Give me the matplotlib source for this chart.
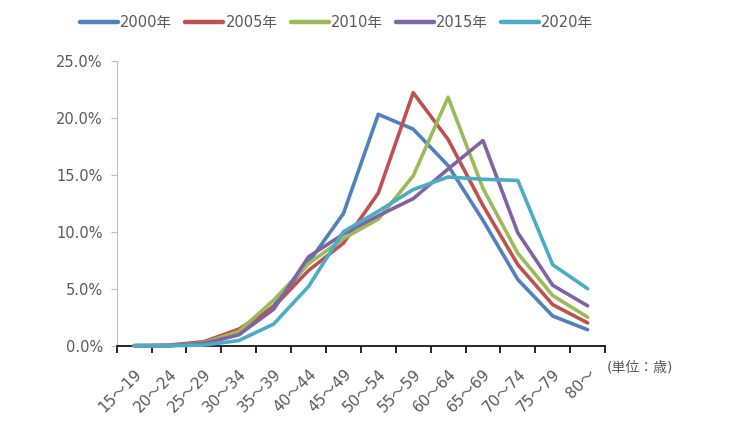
import matplotlib
matplotlib.use('Agg')
import matplotlib.pyplot as plt
from matplotlib.ticker import FixedLocator, PercentFormatter

plt.rcParams['font.family'] = ['DejaVu Sans', 'Noto Sans CJK JP']

ages = ["15～19", "20～24", "25～29", "30～34", "35～39", "40～44", "45～49",
        "50～54", "55～59", "60～64", "65～69", "70～74", "75～79", "80～"]

y2000 = [0.0, 0.0, 0.2, 1.0, 3.5, 7.3, 11.6, 20.3, 19.0, 15.8, 11.0, 5.8, 2.6, 1.4]
y2005 = [0.0, 0.05, 0.35, 1.45, 3.4, 6.6, 9.0, 13.4, 22.2, 18.1, 12.3, 7.1, 3.6, 2.0]
y2010 = [0.0, 0.0, 0.25, 1.25, 4.0, 7.2, 9.4, 11.1, 14.9, 21.8, 13.8, 8.1, 4.4, 2.5]
y2015 = [0.0, 0.0, 0.2, 0.95, 3.2, 7.8, 9.8, 11.4, 12.9, 15.5, 18.0, 9.9, 5.3, 3.5]
y2020 = [0.0, 0.0, 0.05, 0.45, 1.9, 5.2, 10.0, 11.8, 13.7, 14.8, 14.6, 14.5, 7.1, 5.0]

series = [("2000年", y2000, "#4F81BD"),
          ("2005年", y2005, "#C0504D"),
          ("2010年", y2010, "#9BBB59"),
          ("2015年", y2015, "#8064A2"),
          ("2020年", y2020, "#4BACC6")]

text_col = "#595959"

fig = plt.figure(figsize=(7.35, 4.34), dpi=100)
ax = fig.add_axes([0.1588, 0.2035, 0.6644, 0.6565])

x = list(range(len(ages)))
for label, vals, col in series:
    ax.plot(x, vals, color=col, linewidth=2.6, label=label,
            solid_joinstyle='round', solid_capstyle='round', clip_on=False, zorder=3)

ax.set_xlim(-0.5, len(ages) - 0.5)
ax.set_ylim(0, 25)
ax.yaxis.set_major_locator(FixedLocator([0, 5, 10, 15, 20, 25]))
ax.yaxis.set_major_formatter(PercentFormatter(decimals=1))

ax.set_xticks(x)
ax.set_xticklabels(ages, rotation=45, ha='right', va='top', rotation_mode='anchor')
ax.set_xticks([i - 0.5 for i in range(len(ages) + 1)], minor=True)
ax.tick_params(axis='x', which='major', length=0, pad=15, labelsize=11, labelcolor=text_col)
ax.tick_params(axis='x', which='minor', length=5, width=1.2, color='black', direction='out')
ax.tick_params(axis='y', length=4, color='#BFBFBF', labelsize=10.5, labelcolor=text_col, pad=6)

for s in ['top', 'right']:
    ax.spines[s].set_visible(False)
ax.spines['left'].set_color('#BFBFBF')
ax.spines['bottom'].set_color('black')
ax.spines['bottom'].set_linewidth(1.2)

leg = fig.legend(loc='center', bbox_to_anchor=(0.458, 0.948), ncol=5, frameon=False,
                 fontsize=10.5, handlelength=2.6, handletextpad=0.15, columnspacing=0.9,
                 labelcolor=text_col)
for h in leg.get_lines():
    h.set_linewidth(3.2)

fig.text(0.826, 0.154, "(単位：歳)", fontsize=10, color=text_col, va='center', ha='left')

plt.savefig("out.png", dpi=100)
